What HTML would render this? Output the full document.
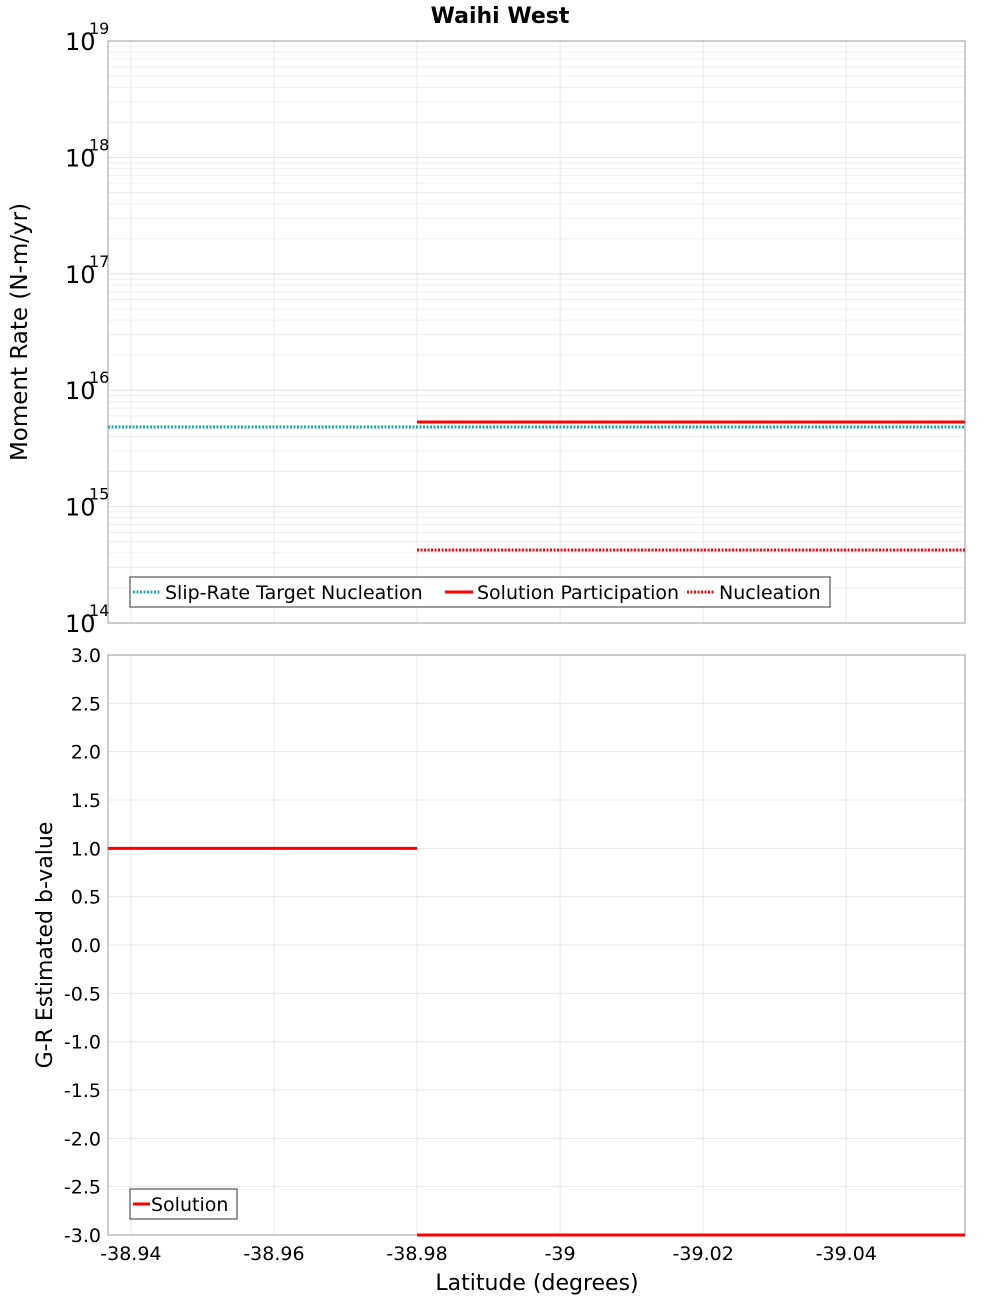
<!DOCTYPE html>
<html><head><meta charset="utf-8"><style>
body{margin:0;background:#fff;font-family:"Liberation Sans","DejaVu Sans",sans-serif}
svg text{font-family:"DejaVu Sans","Liberation Sans",sans-serif}
</style></head><body>
<svg id="c" width="1000" height="1300" xmlns="http://www.w3.org/2000/svg"></svg>
<script>
const xTicks=[-38.94,-38.96,-38.98,-39,-39.02,-39.04];
const xTickLabels=["-38.94","-38.96","-38.98","-39","-39.02","-39.04"];
const xMin=-38.9368, xMax=-39.0566;
const topDecades=[14,15,16,17,18,19];
const cyanX=[-38.9368,-39.0566]; const cyanY=[4.83e15,4.83e15];
const partX=[-38.98,-39.0566]; const partY=[5.33e15,5.33e15];
const nuclX=[-38.98,-39.0566]; const nuclY=[4.24e14,4.24e14];
const bTicks=[3,2.5,2,1.5,1,0.5,0,-0.5,-1,-1.5,-2,-2.5,-3];
const bX1=[-38.9368,-38.98]; const bY1=[1.0,1.0];
const bX2=[-38.98,-39.0566]; const bY2=[-3.0,-3.0];

const svg=document.getElementById('c');const NS="http://www.w3.org/2000/svg";
function mk(t,a,p){const e=document.createElementNS(NS,t);for(const k in a)e.setAttribute(k,a[k]);(p||svg).appendChild(e);return e;}
const L=108,R=965,T1=41,B1=623,T2=655,B2=1235;
const sx=v=>L+(v-xMin)/(xMax-xMin)*(R-L);
const sy1=v=>B1-(Math.log10(v)-14)/5*(B1-T1);
const sy2=v=>B2-(v+3)/6*(B2-T2);
let t=mk('text',{x:500,y:23,'text-anchor':'middle','font-size':22,'font-weight':'bold'});t.textContent="Waihi West";

for(let d=14;d<19;d++)for(let m=1;m<10;m++){const y=sy1(m*Math.pow(10,d));mk('line',{x1:L,x2:R,y1:y,y2:y,stroke:m==1?'#e2e2e2':'#efefef','stroke-width':1});}
for(const v of bTicks){const y=sy2(v);mk('line',{x1:L,x2:R,y1:y,y2:y,stroke:'#e8e8e8'});}
xTicks.forEach(v=>{const x=sx(v);mk('line',{x1:x,x2:x,y1:T1,y2:B1,stroke:'#e8e8e8'});mk('line',{x1:x,x2:x,y1:T2,y2:B2,stroke:'#e8e8e8'});});
mk('rect',{x:L,y:T1,width:R-L,height:B1-T1,fill:'none',stroke:'#999'});
mk('rect',{x:L,y:T2,width:R-L,height:B2-T2,fill:'none',stroke:'#999'});
topDecades.forEach(d=>{const y=sy1(Math.pow(10,d));let e=mk('text',{x:65,y:y+9,'font-size':24});e.textContent="10";let s=mk('text',{x:89,y:y-7,'font-size':16});s.textContent=String(d);});
t=mk('text',{transform:'translate(27,332) rotate(-90)','text-anchor':'middle','font-size':23});t.textContent="Moment Rate (N-m/yr)";

function seg(X,Y,sy,col,dash,name){const e=mk('line',{x1:sx(X[0]),x2:sx(X[1]),y1:sy(Y[0]),y2:sy(Y[1]),stroke:col,'stroke-width':3});if(dash)e.setAttribute('stroke-dasharray','2,1.5');
}
seg(cyanX,cyanY,sy1,'#1aaeae',true,'slip-rate-target-line');
seg(partX,partY,sy1,'#f00',false,'solution-participation-line');
seg(nuclX,nuclY,sy1,'#f00',true,'nucleation-line');
let g=mk('g',{});
mk('rect',{x:130,y:577,width:700,height:30,fill:'#fff',stroke:'#333'},g);
[[133,'#1aaeae',true,'Slip-Rate Target Nucleation'],[445,'#f00',false,'Solution Participation'],[687,'#f00',true,'Nucleation']].forEach(([x,c,d,n])=>{const l=mk('line',{x1:x,x2:x+28,y1:592,y2:592,stroke:c,'stroke-width':3},g);if(d)l.setAttribute('stroke-dasharray','2,1.5');const tx=mk('text',{x:x+32,y:599,'font-size':19},g);tx.textContent=n;});
bTicks.forEach(v=>{const e=mk('text',{x:101,y:sy2(v)+7,'text-anchor':'end','font-size':19});e.textContent=v.toFixed(1);});
t=mk('text',{transform:'translate(52,945) rotate(-90)','text-anchor':'middle','font-size':22});t.textContent="G-R Estimated b-value";

seg(bX1,bY1,sy2,'#f00',false,'b-value-line-1');
seg(bX2,bY2,sy2,'#f00',false,'b-value-line-2');
xTicks.forEach((v,i)=>{const e=mk('text',{x:sx(v),y:1260,'text-anchor':'middle','font-size':19});e.textContent=xTickLabels[i];});
t=mk('text',{x:537,y:1290,'text-anchor':'middle','font-size':22});t.textContent="Latitude (degrees)";

g=mk('g',{});
mk('rect',{x:130,y:1189,width:107,height:30,fill:'#fff',stroke:'#333'},g);
mk('line',{x1:133,x2:150,y1:1204,y2:1204,stroke:'#f00','stroke-width':3},g);
t=mk('text',{x:151,y:1211,'font-size':19},g);t.textContent="Solution";
</script>
</body></html>
